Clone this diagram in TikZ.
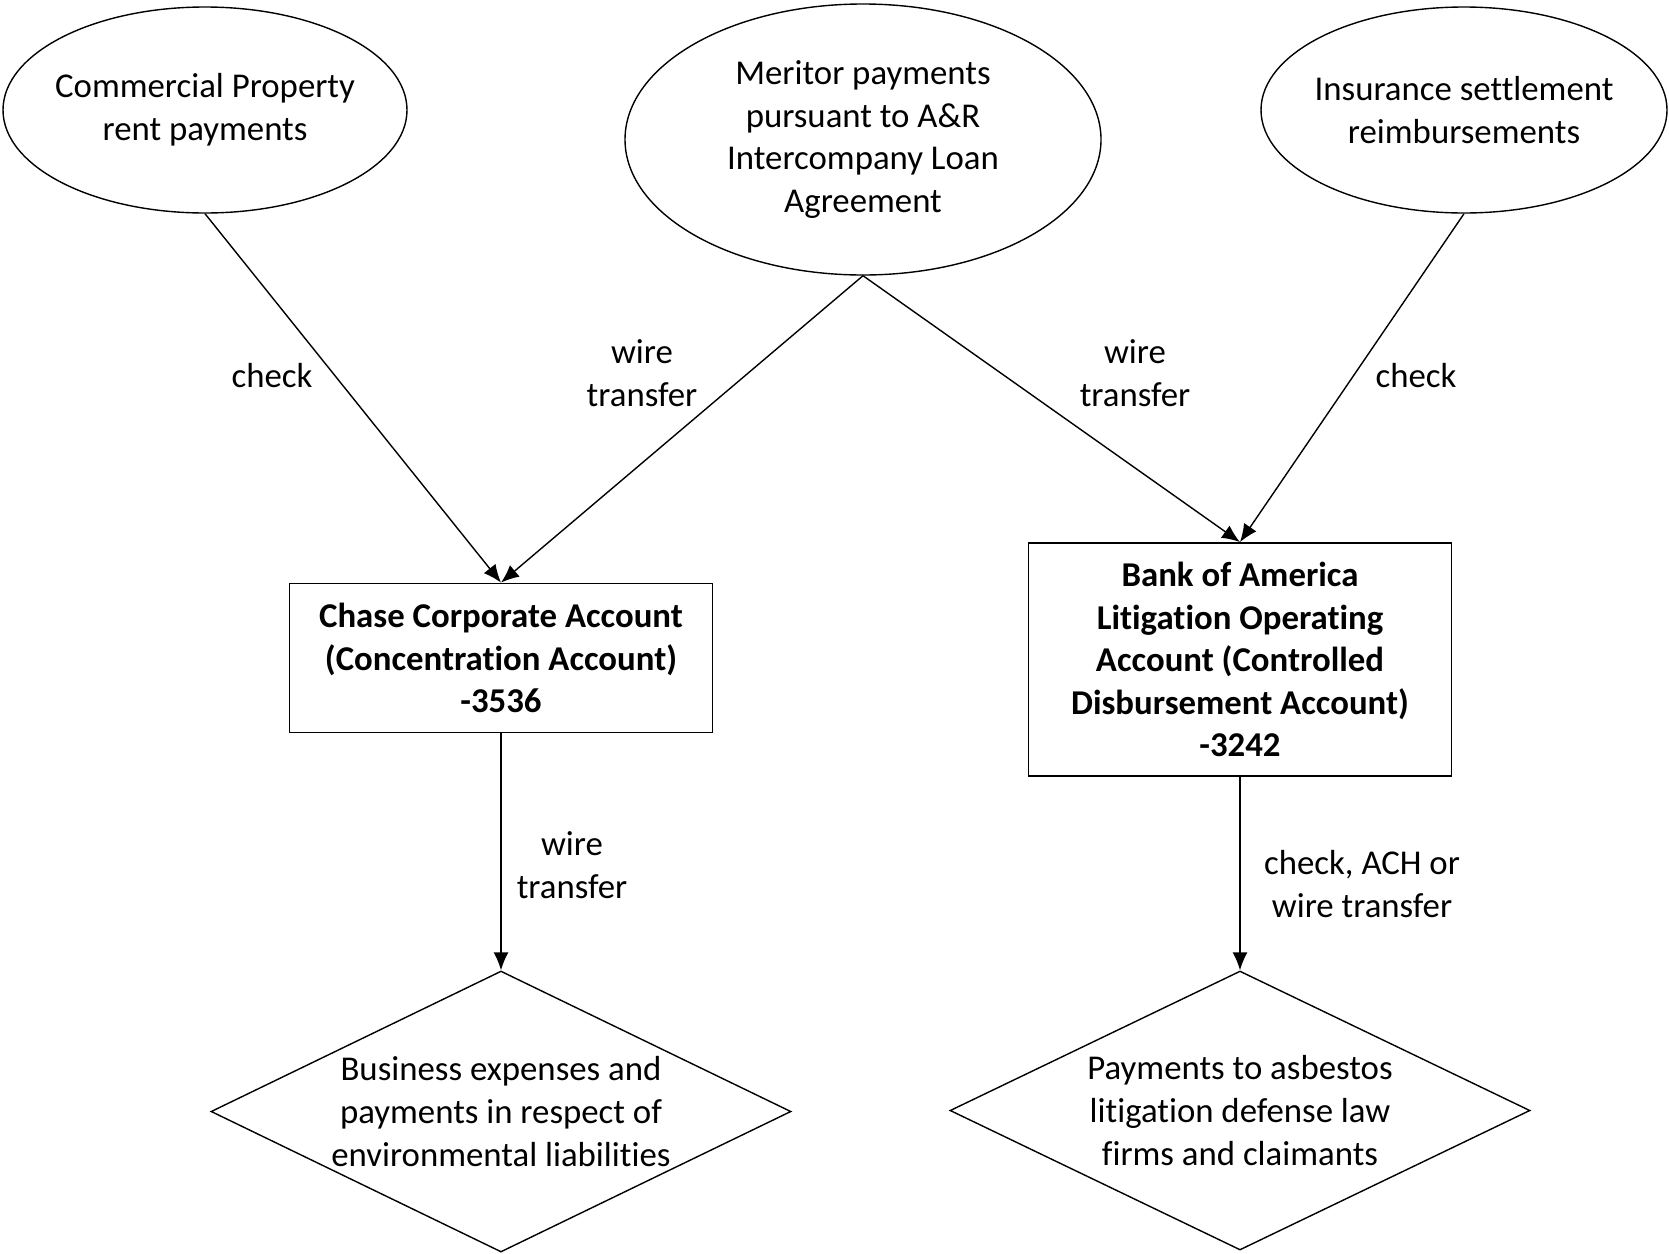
\documentclass[tikz,border=0pt]{standalone}
\usepackage{fontspec}
\setmainfont{Carlito}[RawFeature={-liga;-clig;-calt;-dlig}]
\usetikzlibrary{shapes.geometric,arrows.meta}
\tikzset{
  txt/.style={font=\fontsize{17.4pt}{21.3pt}\selectfont, align=center},
  source/.style={txt, draw, ellipse, line width=0.7pt, inner xsep=-8pt, inner ysep=0pt},
  account/.style={txt, draw, rectangle, line width=0.9pt, minimum width=211.5pt, font=\fontsize{17.4pt}{21.3pt}\selectfont\bfseries},
  outlet/.style={txt, draw, diamond, aspect=2.06, line width=0.7pt, inner sep=-12pt, minimum width=290pt},
  flow/.style={-{Latex[length=9pt,width=7.5pt]}, line width=0.7pt}
}
\begin{document}
\begin{tikzpicture}[x=0.5pt,y=-0.5pt]
    \useasboundingbox (0,0) rectangle (1669,1253);
    % sources
    \node[source, minimum width=202pt, minimum height=103pt] (rent) at (205,110) {Commercial Property\\rent payments};
    \node[source, minimum width=238pt, minimum height=135.5pt] (meritor) at (863,139.5) {Meritor payments\\pursuant to A\&R\\Intercompany Loan\\Agreement};
    \node[source, minimum width=203pt, minimum height=103pt] (insurance) at (1464,110) {Insurance settlement\\reimbursements};
    % accounts
    \node[account, minimum height=74.5pt] (chase) at (501,658) {Chase Corporate Account\\(Concentration Account)\\-3536};
    \node[account, minimum height=116.5pt] (boa) at (1240,659.5) {Bank of America\\Litigation Operating\\Account (Controlled\\Disbursement Account)\\-3242};
    % uses
    \node[outlet, minimum height=140.5pt] (business) at (501,1111.5) {Business expenses and\\payments in respect of\\environmental liabilities};
    \node[outlet, minimum height=139.5pt] (asbestos) at (1240,1110.5) {Payments to asbestos\\litigation defense law\\firms and claimants};
    % flows
    \draw[flow] (rent.south) -- (chase.north);
    \draw[flow] (meritor.south) -- (chase.north);
    \draw[flow] (meritor.south) -- (boa.north);
    \draw[flow] (insurance.south) -- (boa.north);
    \draw[flow] (chase.south) -- (business.north);
    \draw[flow] (boa.south) -- (asbestos.north);
    % labels
    \node[txt] (chk1) at (272,376) {check};
    \node[txt] (wire1) at (642,373) {wire\\transfer};
    \node[txt] (wire2) at (1135,373) {wire\\transfer};
    \node[txt] (chk2) at (1416,376) {check};
    \node[txt] (wire3) at (572,865) {wire\\transfer};
    \node[txt] (mixed) at (1362,884) {check, ACH or\\wire transfer};
\end{tikzpicture}
\end{document}
